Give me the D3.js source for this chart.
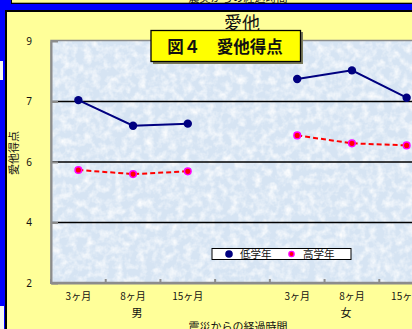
<!DOCTYPE html>
<html>
<head>
<meta charset="utf-8">
<script src="https://cdn.jsdelivr.net/npm/d3@7"></script>
<style>
    body { margin: 0; background: #0000ff; }
    svg { display: block; }
    text { font-family: "Noto Sans CJK JP", "Noto Sans", sans-serif; fill: #111; }
</style>
</head>
<body>
<script>
// Données
const categories = ["3ヶ月", "8ヶ月", "15ヶ月"];
const groups = ["男", "女"];
const seriesNames = ["低学年", "高学年"];
const lowGrade = [7.29, 6.55, 6.61, 7.90, 8.15, 7.36];
const highGrade = [5.27, 5.15, 5.23, 6.27, 6.04, 5.98];
const yTicks = [2, 3.75, 5.5, 7.25, 9];

const width = 412;
const height = 329;
const plot = { left: 51, top: 41, right: 434, bottom: 283 };

const svg = d3.select("body").append("svg")
    .attr("width", width)
    .attr("height", height);

// Texture du fond de la zone de tracé
const defs = svg.append("defs");
const filter = defs.append("filter").attr("id", "tex")
    .attr("x", 0).attr("y", 0).attr("width", 1).attr("height", 1);
filter.append("feTurbulence")
    .attr("type", "fractalNoise")
    .attr("baseFrequency", 0.13)
    .attr("numOctaves", 3)
    .attr("seed", 4);
filter.append("feColorMatrix")
    .attr("type", "matrix")
    .attr("values", "0 0 0 0 1  0 0 0 0 1  0 0 0 0 1  1.8 0 0 0 -0.7");
filter.append("feComposite").attr("in2", "SourceGraphic").attr("operator", "in");
defs.append("clipPath").attr("id", "clip").append("rect")
    .attr("x", 0).attr("y", 0).attr("width", width).attr("height", height);

// Fond bleu et cadres (feuille Excel)
svg.append("rect").attr("width", width).attr("height", height).attr("fill", "#0000ff");
svg.append("rect").attr("x", 0).attr("y", 61).attr("width", 3).attr("height", 19).attr("fill", "#f4f4f4");
svg.append("rect").attr("x", 0).attr("y", 306).attr("width", 4).attr("height", 23).attr("fill", "#f4f4f4");

// bas du graphique précédent
svg.append("rect").attr("x", 11).attr("y", -2).attr("width", 410).attr("height", 6).attr("fill", "#000");
svg.append("rect").attr("x", 12).attr("y", -2).attr("width", 410).attr("height", 4.7).attr("fill", "#ffff99");
svg.append("text")
    .attr("x", 238).attr("y", 1.6)
    .attr("text-anchor", "middle")
    .style("font-size", "11px")
    .text("震災からの経過時間");

// cadre de ce graphique
svg.append("rect").attr("x", 5).attr("y", 10).attr("width", 420).attr("height", 330).attr("fill", "#000");
svg.append("rect").attr("x", 7).attr("y", 12).attr("width", 420).attr("height", 330).attr("fill", "#ffff99");

// Zone de tracé
svg.append("rect")
    .attr("x", plot.left).attr("y", plot.top)
    .attr("width", plot.right - plot.left).attr("height", plot.bottom - plot.top)
    .attr("fill", "#d6e4f3");
svg.append("rect")
    .attr("x", plot.left).attr("y", plot.top)
    .attr("width", plot.right - plot.left).attr("height", plot.bottom - plot.top)
    .attr("fill", "#fff")
    .attr("filter", "url(#tex)");
svg.append("rect")
    .attr("x", plot.left).attr("y", plot.top - 0.5)
    .attr("width", plot.right - plot.left).attr("height", plot.bottom - plot.top)
    .attr("fill", "none")
    .attr("stroke", "#8c8c8c")
    .attr("stroke-width", 1.5);

// Echelle X : 3 catégories par groupe, une case vide entre les groupes
const slots = [];
groups.forEach((g, gi) => {
    if (gi > 0) slots.push("gap");
    categories.forEach(c => slots.push(g + "|" + c));
});
const x = d3.scaleBand()
    .domain(slots)
    .range([plot.left, plot.right])
    .padding(0);
const cx = key => x(key) + x.bandwidth() / 2;

// Echelle Y
const y = d3.scaleLinear()
    .domain([2, 9])
    .range([plot.bottom, plot.top]);

// Lignes de grille
svg.append("g")
    .selectAll("line")
    .data(yTicks.slice(1, -1))
    .enter().append("line")
    .attr("x1", plot.left).attr("x2", plot.right)
    .attr("y1", d => y(d)).attr("y2", d => y(d))
    .attr("stroke", "#000")
    .attr("stroke-width", 1.6);

// Axe Y
const yAxis = svg.append("g")
    .attr("transform", "translate(" + plot.left + ",0)")
    .call(d3.axisLeft(y)
        .tickValues(yTicks)
        .tickFormat(d => Math.round(d))
        .tickSizeInner(-7)
        .tickSizeOuter(0)
        .tickPadding(22));
yAxis.select(".domain").attr("stroke", "#8c8c8c").attr("stroke-width", 2);
yAxis.selectAll(".tick line").attr("stroke", "#8c8c8c").attr("stroke-width", 2);
yAxis.selectAll("text")
    .attr("text-anchor", "middle")
    .style("font-size", "10px")
    .style("font-family", "'Noto Sans', sans-serif")
    .attr("fill", "#111");

// Axe X
const xAxis = svg.append("g")
    .attr("transform", "translate(0," + plot.bottom + ")")
    .call(d3.axisBottom(x)
        .tickFormat(k => k === "gap" ? "" : k.split("|")[1])
        .tickSize(0)
        .tickPadding(10));
xAxis.select(".domain").attr("stroke", "#8c8c8c").attr("stroke-width", 2);
xAxis.selectAll("text").style("font-size", "10px").attr("fill", "#111");

// graduations entre les catégories
svg.append("g")
    .selectAll("line")
    .data(slots)
    .enter().append("line")
    .attr("x1", d => x(d)).attr("x2", d => x(d))
    .attr("y1", plot.bottom - 4).attr("y2", plot.bottom + 1)
    .attr("stroke", "#8c8c8c")
    .attr("stroke-width", 2);

// Libellés des groupes
svg.append("g")
    .selectAll("text")
    .data(groups)
    .enter().append("text")
    .attr("x", g => cx(g + "|" + categories[1]) + (g === groups[0] ? 4 : -6))
    .attr("y", 317)
    .attr("text-anchor", "middle")
    .style("font-size", "11px")
    .text(g => g);

// Séries
const points = (values) => values.map((v, i) => ({
    key: groups[Math.floor(i / categories.length)] + "|" + categories[i % categories.length],
    group: Math.floor(i / categories.length),
    value: v
}));
const line = d3.line().x(d => cx(d.key)).y(d => y(d.value));

const low = points(lowGrade);
const high = points(highGrade);

groups.forEach((g, gi) => {
    svg.append("path")
        .datum(high.filter(d => d.group === gi))
        .attr("d", line)
        .attr("fill", "none")
        .attr("stroke", "#ff0000")
        .attr("stroke-width", 2)
        .attr("stroke-dasharray", "5,3");
    svg.append("path")
        .datum(low.filter(d => d.group === gi))
        .attr("d", line)
        .attr("fill", "none")
        .attr("stroke", "#000080")
        .attr("stroke-width", 2);
});

svg.append("g").attr("clip-path", "url(#clip)")
    .selectAll("circle")
    .data(high)
    .enter().append("circle")
    .attr("cx", d => cx(d.key))
    .attr("cy", d => y(d.value))
    .attr("r", 3.3)
    .attr("fill", "#ff0000")
    .attr("stroke", "#ff00ff")
    .attr("stroke-width", 1.5);

svg.append("g").attr("clip-path", "url(#clip)")
    .selectAll("circle")
    .data(low)
    .enter().append("circle")
    .attr("cx", d => cx(d.key))
    .attr("cy", d => y(d.value))
    .attr("r", 4.2)
    .attr("fill", "#000080");

// Légende
const legend = svg.append("g").attr("transform", "translate(212,248.5)");
legend.append("rect")
    .attr("width", 139).attr("height", 11)
    .attr("fill", "#fff")
    .attr("stroke", "#000")
    .attr("stroke-width", 1);
legend.append("circle").attr("cx", 17).attr("cy", 5.5).attr("r", 3.8).attr("fill", "#000080");
legend.append("circle").attr("cx", 79.5).attr("cy", 5.5).attr("r", 2.6)
    .attr("fill", "#ff0000").attr("stroke", "#ff00ff").attr("stroke-width", 1.4);
legend.append("text").attr("x", 28).attr("y", 9.4).style("font-size", "10.5px").text(seriesNames[0]);
legend.append("text").attr("x", 91).attr("y", 9.4).style("font-size", "10.5px").text(seriesNames[1]);

// Titres des axes
svg.append("text")
    .attr("transform", "translate(18,153) rotate(-90)")
    .attr("text-anchor", "middle")
    .style("font-size", "11px")
    .text("愛他得点");

svg.append("text")
    .attr("x", 238)
    .attr("y", 331)
    .attr("text-anchor", "middle")
    .style("font-size", "11px")
    .text("震災からの経過時間");

// Titre du graphique
svg.append("text")
    .attr("x", 242)
    .attr("y", 30)
    .attr("text-anchor", "middle")
    .style("font-size", "18px")
    .text("愛他");

// Encadré jaune "図４"
svg.append("rect")
    .attr("x", 153).attr("y", 32)
    .attr("width", 150).attr("height", 32)
    .attr("fill", "#7a7a5a");
svg.append("rect")
    .attr("x", 151).attr("y", 30.5)
    .attr("width", 149.5).attr("height", 31)
    .attr("fill", "#ffff00")
    .attr("stroke", "#000")
    .attr("stroke-width", 1.3);
svg.append("text")
    .attr("x", 225)
    .attr("y", 52.5)
    .attr("text-anchor", "middle")
    .style("font-size", "16.5px")
    .style("font-weight", "bold")
    .text("図４　愛他得点");
</script>
</body>
</html>
